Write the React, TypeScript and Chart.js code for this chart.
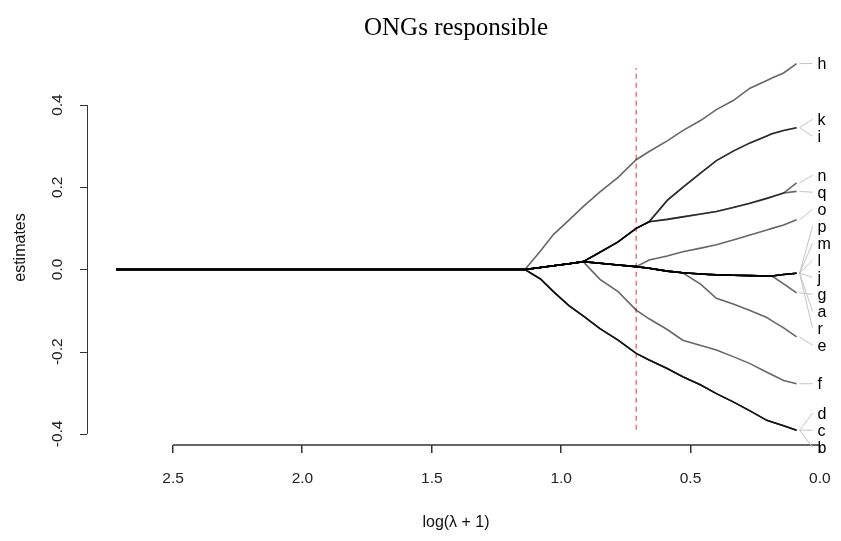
import React, { useEffect, useRef } from "react";
import { Chart, registerables } from "chart.js";

Chart.register(...registerables);

// ---- data ----
const chartTitle = "ONGs responsible";
const xAxisTitle = "log(\u03bb + 1)";
const yAxisTitle = "estimates";

const logLambda = [2.72, 1.14, 1.08, 1.03, 0.97, 0.915, 0.85, 0.78, 0.71, 0.66, 0.59, 0.53, 0.46, 0.40, 0.335, 0.27, 0.205, 0.185, 0.14, 0.09];

const coefA = [0, 0, 0.005, 0.009, 0.014, 0.019, 0.015, 0.011, 0.007, 0.003, -0.004, -0.008, -0.011, -0.013, -0.014, -0.015, -0.016, -0.016, -0.012, -0.009];
const coefB = [0, 0, -0.023, -0.054, -0.088, -0.113, -0.144, -0.172, -0.204, -0.220, -0.241, -0.261, -0.281, -0.302, -0.322, -0.344, -0.367, -0.371, -0.380, -0.391];
const coefC = [0, 0, -0.023, -0.054, -0.088, -0.113, -0.144, -0.172, -0.204, -0.220, -0.241, -0.261, -0.281, -0.302, -0.322, -0.344, -0.367, -0.371, -0.380, -0.391];
const coefD = [0, 0, -0.023, -0.054, -0.088, -0.113, -0.144, -0.172, -0.204, -0.220, -0.241, -0.261, -0.281, -0.302, -0.322, -0.344, -0.367, -0.371, -0.380, -0.391];
const coefE = [0, 0, 0.005, 0.009, 0.014, 0.019, 0.015, 0.011, 0.007, 0.003, -0.004, -0.008, -0.036, -0.070, -0.084, -0.100, -0.117, -0.125, -0.142, -0.164];
const coefF = [0, 0, 0.005, 0.009, 0.014, 0.019, -0.024, -0.054, -0.099, -0.120, -0.146, -0.172, -0.185, -0.196, -0.212, -0.229, -0.250, -0.256, -0.270, -0.278];
const coefG = [0, 0, 0.005, 0.009, 0.014, 0.019, 0.015, 0.011, 0.007, 0.003, -0.004, -0.008, -0.011, -0.013, -0.014, -0.015, -0.016, -0.016, -0.035, -0.057];
const coefH = [0, 0, 0.045, 0.085, 0.120, 0.153, 0.189, 0.224, 0.267, 0.287, 0.313, 0.338, 0.363, 0.389, 0.411, 0.441, 0.460, 0.466, 0.478, 0.501];
const coefI = [0, 0, 0.005, 0.009, 0.014, 0.019, 0.042, 0.067, 0.100, 0.116, 0.168, 0.200, 0.235, 0.265, 0.288, 0.308, 0.325, 0.330, 0.338, 0.345];
const coefJ = [0, 0, 0.005, 0.009, 0.014, 0.019, 0.015, 0.011, 0.007, 0.003, -0.004, -0.008, -0.011, -0.013, -0.014, -0.015, -0.016, -0.016, -0.012, -0.009];
const coefK = [0, 0, 0.005, 0.009, 0.014, 0.019, 0.042, 0.067, 0.100, 0.116, 0.168, 0.200, 0.235, 0.265, 0.288, 0.308, 0.325, 0.330, 0.338, 0.345];
const coefL = [0, 0, 0.005, 0.009, 0.014, 0.019, 0.015, 0.011, 0.007, 0.003, -0.004, -0.008, -0.011, -0.013, -0.014, -0.015, -0.016, -0.016, -0.012, -0.009];
const coefM = [0, 0, 0.005, 0.009, 0.014, 0.019, 0.015, 0.011, 0.007, 0.003, -0.004, -0.008, -0.011, -0.013, -0.014, -0.015, -0.016, -0.016, -0.012, -0.009];
const coefN = [0, 0, 0.005, 0.009, 0.014, 0.019, 0.042, 0.067, 0.100, 0.116, 0.122, 0.128, 0.135, 0.141, 0.151, 0.161, 0.173, 0.177, 0.186, 0.211];
const coefO = [0, 0, 0.005, 0.009, 0.014, 0.019, 0.015, 0.011, 0.007, 0.023, 0.033, 0.043, 0.052, 0.060, 0.072, 0.084, 0.096, 0.100, 0.108, 0.121];
const coefP = [0, 0, 0.005, 0.009, 0.014, 0.019, 0.015, 0.011, 0.007, 0.003, -0.004, -0.008, -0.011, -0.013, -0.014, -0.015, -0.016, -0.016, -0.012, -0.009];
const coefQ = [0, 0, 0.005, 0.009, 0.014, 0.019, 0.042, 0.067, 0.100, 0.116, 0.122, 0.128, 0.135, 0.141, 0.151, 0.161, 0.173, 0.177, 0.186, 0.190];
const coefR = [0, 0, 0.005, 0.009, 0.014, 0.019, 0.015, 0.011, 0.007, 0.003, -0.004, -0.008, -0.011, -0.013, -0.014, -0.015, -0.016, -0.016, -0.012, -0.009];

const variableNames = ["a", "b", "c", "d", "e", "f", "g", "h", "i", "j", "k", "l", "m", "n", "o", "p", "q", "r"];
const coefficients = [coefA, coefB, coefC, coefD, coefE, coefF, coefG, coefH, coefI, coefJ, coefK, coefL, coefM, coefN, coefO, coefP, coefQ, coefR];
// order in which the end labels are stacked, top to bottom
const labelOrder = ["h", "k", "i", "n", "q", "o", "p", "m", "l", "j", "g", "a", "r", "e", "f", "d", "c", "b"];

const xTicks = [2.5, 2.0, 1.5, 1.0, 0.5, 0.0];
const yTicks = [-0.4, -0.2, 0.0, 0.2, 0.4];
const selectedLogLambda = 0.71;
const selectedLineRange = [-0.39, 0.49];

// ---- helpers ----
const SANS = "'Liberation Sans', Arial, sans-serif";
const SERIF = "'Liberation Serif', 'Times New Roman', serif";

function spreadLabels(ideal: number[], gap: number): number[] {
  type Cl = { start: number; n: number; sumAdj: number };
  let cl: Cl[] = ideal.map((p, i) => ({ start: i, n: 1, sumAdj: p }));
  let changed = true;
  while (changed) {
    changed = false;
    for (let k = 0; k < cl.length - 1; k++) {
      const a = cl[k];
      const b = cl[k + 1];
      const aTop = a.sumAdj / a.n;
      const aBottom = aTop + gap * (a.n - 1);
      const bTop = b.sumAdj / b.n;
      if (bTop - aBottom < gap - 1e-9) {
        const merged: Cl = { start: a.start, n: a.n + b.n, sumAdj: a.sumAdj + b.sumAdj - gap * a.n * b.n };
        cl.splice(k, 2, merged);
        changed = true;
        break;
      }
    }
  }
  const out: number[] = new Array(ideal.length);
  cl.forEach((c) => {
    const top = c.sumAdj / c.n;
    for (let j = 0; j < c.n; j++) out[c.start + j] = top + gap * j;
  });
  return out;
}

const decorPlugin = {
  id: "decor",
  afterDraw(chart: any) {
    const ctx: CanvasRenderingContext2D = chart.ctx;
    const xs = chart.scales.x;
    const ys = chart.scales.y;
    const area = chart.chartArea;
    ctx.save();

    // title
    ctx.fillStyle = "#000";
    ctx.font = `25px ${SERIF}`;
    ctx.textAlign = "center";
    ctx.textBaseline = "middle";
    ctx.fillText(chartTitle, (area.left + area.right) / 2, 28);

    // x axis
    const xAxisY = Math.round(area.bottom);
    const x0 = xs.getPixelForValue(xTicks[0]);
    const x1 = xs.getPixelForValue(xTicks[xTicks.length - 1]);
    ctx.fillStyle = "#666";
    ctx.fillRect(x0, xAxisY - 1, x1 - x0, 2);
    ctx.fillStyle = "#333";
    xTicks.forEach((t) => {
      const px = Math.round(xs.getPixelForValue(t));
      ctx.fillRect(px - 1, xAxisY, 1.5, 8);
    });
    ctx.fillStyle = "#222";
    ctx.font = `15.5px ${SANS}`;
    ctx.textAlign = "center";
    ctx.textBaseline = "middle";
    xTicks.forEach((t) => {
      ctx.fillText(t.toFixed(1), xs.getPixelForValue(t), xAxisY + 34);
    });

    // y axis
    const yAxisX = Math.round(area.left) - 1;
    const y0 = ys.getPixelForValue(yTicks[yTicks.length - 1]);
    const y1 = ys.getPixelForValue(yTicks[0]);
    ctx.fillStyle = "#333";
    ctx.fillRect(yAxisX, y0, 1, y1 - y0);
    yTicks.forEach((t) => {
      const py = Math.round(ys.getPixelForValue(t));
      ctx.fillRect(yAxisX - 7, py, 7, 1);
    });
    ctx.fillStyle = "#222";
    yTicks.forEach((t) => {
      ctx.save();
      ctx.translate(area.left - 30, ys.getPixelForValue(t));
      ctx.rotate(-Math.PI / 2);
      ctx.fillText(t.toFixed(1), 0, 0);
      ctx.restore();
    });

    // axis titles
    ctx.fillStyle = "#111";
    ctx.font = `16px ${SANS}`;
    ctx.fillText(xAxisTitle, (area.left + area.right) / 2, area.bottom + 78);
    ctx.save();
    ctx.translate(21, (area.top + area.bottom) / 2);
    ctx.rotate(-Math.PI / 2);
    ctx.fillText(yAxisTitle, 0, 0);
    ctx.restore();

    // end labels with connectors
    const last = logLambda.length - 1;
    const endX = xs.getPixelForValue(logLambda[last]);
    const ideal = labelOrder.map((name) => ys.getPixelForValue(coefficients[variableNames.indexOf(name)][last]));
    const placed = spreadLabels(ideal, 17);
    ctx.strokeStyle = "#c4c4c4";
    ctx.lineWidth = 1;
    ctx.beginPath();
    labelOrder.forEach((name, k) => {
      ctx.moveTo(endX + 3, ideal[k]);
      ctx.lineTo(endX + 16, placed[k]);
    });
    ctx.stroke();
    ctx.fillStyle = "#000";
    ctx.font = `16px ${SANS}`;
    ctx.textAlign = "left";
    ctx.textBaseline = "middle";
    labelOrder.forEach((name, k) => {
      ctx.fillText(name, endX + 21, placed[k] + 1);
    });

    ctx.restore();
  },
};

export default function App() {
  const canvasRef = useRef<HTMLCanvasElement | null>(null);

  useEffect(() => {
    if (!canvasRef.current) return;
    const datasets: any[] = coefficients.map((coef, i) => ({
      label: variableNames[i],
      data: logLambda.map((x, j) => ({ x, y: coef[j] })),
      borderColor: "rgba(0,0,0,0.6)",
      borderWidth: 1.6,
      pointRadius: 0,
      tension: 0,
      fill: false,
    }));
    datasets.push({
      label: "selected",
      data: [
        { x: selectedLogLambda, y: selectedLineRange[0] },
        { x: selectedLogLambda, y: selectedLineRange[1] },
      ],
      borderColor: "rgba(230,70,60,0.9)",
      borderWidth: 1.2,
      borderDash: [5, 4],
      pointRadius: 0,
      fill: false,
    });

    const chart = new Chart(canvasRef.current, {
      type: "line",
      data: { datasets },
      options: {
        responsive: false,
        animation: false,
        layout: { padding: { left: 88, right: 17, top: 50, bottom: 96 } },
        scales: {
          x: { type: "linear", reverse: true, min: -0.016, max: 2.829, display: false },
          y: { type: "linear", min: -0.427, max: 0.534, display: false },
        },
        plugins: {
          legend: { display: false },
          tooltip: { enabled: false },
          title: { display: false },
        },
      },
      plugins: [decorPlugin],
    } as any);
    return () => chart.destroy();
  }, []);

  return (
    <div style={{ position: "absolute", left: 0, top: 0, width: 841, height: 541, background: "#fff" }}>
      <canvas ref={canvasRef} width={841} height={541} />
    </div>
  );
}
